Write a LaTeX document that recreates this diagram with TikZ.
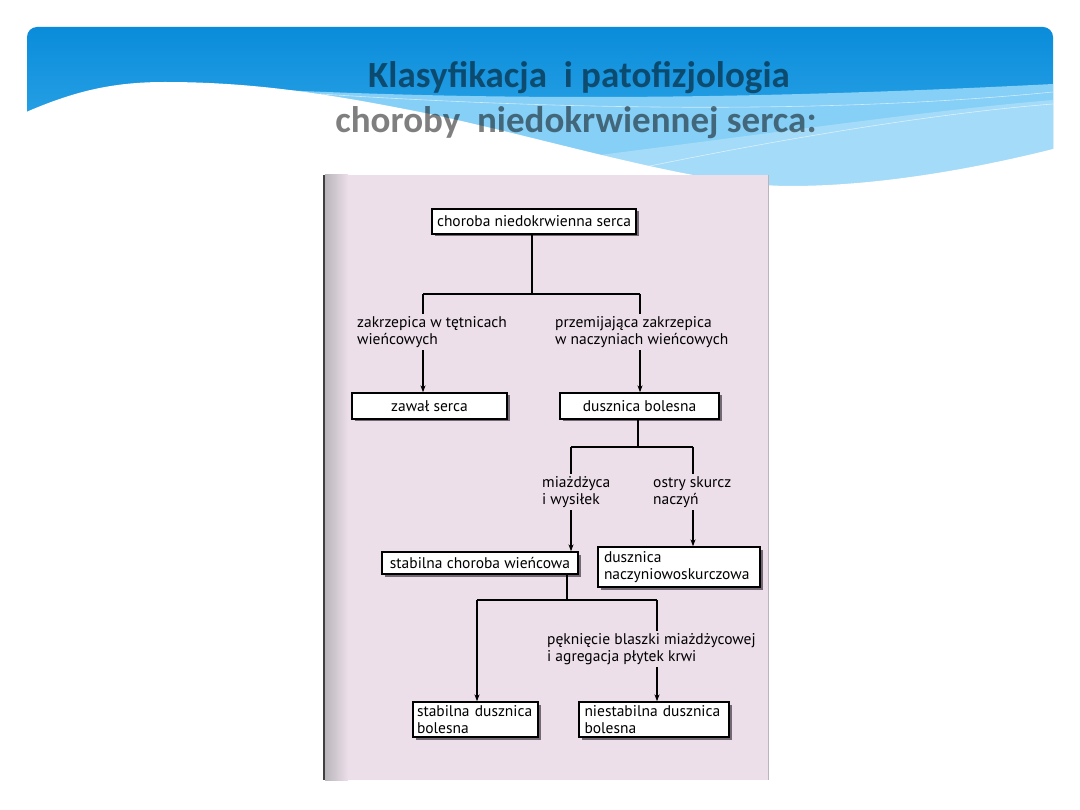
\documentclass[tikz,border=0pt]{standalone}
\usepackage{fontspec}
\usepackage{tikz}
\usetikzlibrary{arrows.meta,shadows}
\newfontfamily\titlefont{Carlito}
\newfontfamily\scanfont{PT Sans}
\definecolor{BanTop}{HTML}{0A8CDA}
\definecolor{BanBot}{HTML}{45B5F0}
\definecolor{BanStrip}{HTML}{86CFF6}
\definecolor{PagePink}{HTML}{ECDFE9}
\definecolor{PageEdge}{HTML}{B9B5BB}
\definecolor{BoxShadow}{HTML}{5E5560}

\begin{document}
\begin{tikzpicture}[x=1pt,y=-1pt,
  box/.style={draw=black,line width=1.3pt,fill=white,inner sep=0pt,
    font=\scanfont\fontsize{15.5}{17.5}\selectfont,
    drop shadow={shadow xshift=2.5pt,shadow yshift=-2.5pt,fill=BoxShadow,opacity=.85}},
  lbl/.style={anchor=north west,inner sep=2pt,align=left,fill=PagePink,
    font=\scanfont\fontsize{15.5}{17.5}\selectfont},
  link/.style={line width=1.1pt},
  arr/.style={link,-{Stealth[length=7pt,width=5pt]}}]
\path[use as bounding box] (0,0) rectangle (1080,810);
\fill[white] (0,0) rectangle (1080,810);

% banner
\begin{scope}
\clip[rounded corners=10pt] (27,27) rectangle (1053,215);
\shade[top color=BanTop,bottom color=BanBot] (27,27) rectangle (1053,215);
\fill[BanStrip] (200,86) .. controls (450,100) and (700,102) .. (1053,84) -- (1053,215) -- (200,215) -- cycle;
\fill[white,opacity=.25] (560,160) .. controls (760,135) and (930,110) .. (1053,100) -- (1053,215) -- (560,215) -- cycle;
\draw[white,opacity=.6,line width=.6pt] (320,94) .. controls (600,112) and (850,112) .. (1053,92);
\draw[white,opacity=.6,line width=.6pt] (640,168) .. controls (800,135) and (950,112) .. (1053,104);
\end{scope}
\fill[white] (15,117) .. controls (70,92) and (110,82) .. (165,82)
  .. controls (260,82) and (340,96) .. (430,114)
  .. controls (560,142) and (700,186) .. (790,186)
  .. controls (880,186) and (980,168) .. (1065,146) -- (1065,230) -- (15,230) -- cycle;
\node[anchor=base,font=\titlefont\bfseries\fontsize{37}{45}\selectfont,text=black,text opacity=.5] (title1) at (579,88) {Klasyfikacja\ \ i patofizjologia};
\node[anchor=base,font=\titlefont\bfseries\fontsize{37}{45}\selectfont,text=black,text opacity=.5] (title2) at (576,133) {choroby\ \ niedokrwiennej serca:};

% scanned page
\fill[PagePink] (323,175) rectangle (769,780);
\shade[left color=PageEdge,right color=PagePink] (325,175) rectangle (348,780);
\draw[black!75,line width=1.5pt] (324,175) -- (324,780);
\draw[PageEdge,line width=.8pt] (768.5,175) -- (768.5,780);

% boxes
\node[box,minimum width=204pt,minimum height=25pt] (b1) at (534,221.5) {choroba niedokrwienna serca};
\node[box,minimum width=155pt,minimum height=26pt] (b2) at (429.5,406) {zawał serca};
\node[box,minimum width=159pt,minimum height=26pt] (b3) at (639.5,406) {dusznica bolesna};
\node[box,minimum width=196pt,minimum height=22pt] (b4) at (480,563) {stabilna choroba wieńcowa};
\node[box,minimum width=162pt,minimum height=40pt,text width=150pt,align=left] (b5) at (679,567) {dusznica\\naczyniowoskurczowa};
\node[box,minimum width=125pt,minimum height=35pt,text width=117pt,align=left] (b6) at (475.5,719.5) {stabilna dusznica\\bolesna};
\node[box,minimum width=150pt,minimum height=35pt,text width=139pt,align=left] (b7) at (654,719.5) {niestabilna dusznica\\bolesna};

% connectors
\coordinate (j1) at (532,294);
\coordinate (j1l) at (423,294);
\coordinate (j1r) at (640,294);
\draw[link] (j1 |- b1.south) -- (j1);
\draw[link] (j1l) -- (j1r);
\draw[arr] (j1l) -- (j1l |- b2.north);
\draw[arr] (j1r) -- (j1r |- b3.north);

\coordinate (j2) at (638,447);
\coordinate (j2l) at (571,447);
\coordinate (j2r) at (693,447);
\draw[link] (j2 |- b3.south) -- (j2);
\draw[link] (j2l) -- (j2r);
\draw[arr] (j2l) -- (j2l |- b4.north);
\draw[arr] (j2r) -- (j2r |- b5.north);

\coordinate (j3) at (567,600);
\coordinate (j3l) at (477,600);
\coordinate (j3r) at (657,600);
\draw[link] (j3 |- b4.south) -- (j3);
\draw[link] (j3l) -- (j3r);
\draw[arr] (j3l) -- (j3l |- b6.north);
\draw[arr] (j3r) -- (j3r |- b7.north);

% labels
\node[lbl] (l1) at (355,314) {zakrzepica w tętnicach\\wieńcowych};
\node[lbl] (l2) at (553,314) {przemijająca zakrzepica\\w naczyniach wieńcowych};
\node[lbl] (l3) at (540,474) {miażdżyca\\i wysiłek};
\node[lbl] (l4) at (651,474) {ostry skurcz\\naczyń};
\node[lbl] (l5) at (545,631) {pęknięcie blaszki miażdżycowej\\i agregacja płytek krwi};
\end{tikzpicture}
\end{document}
